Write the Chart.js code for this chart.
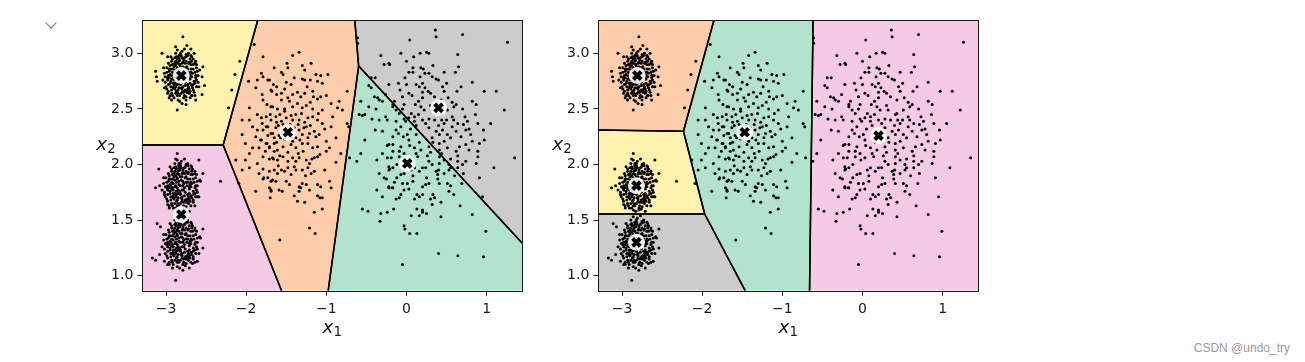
<!DOCTYPE html>
<html>
<head>
<meta charset="utf-8">
<script src="https://cdn.jsdelivr.net/npm/chart.js@4.4.0/dist/chart.umd.min.js"></script>
<style>
  html, body { margin: 0; padding: 0; background: #fff; }
  body { width: 1305px; height: 362px; position: relative; overflow: hidden; }
  canvas { position: absolute; top: 0; }
  #left { left: 0; }
  #right { left: 456px; }
  .chev { position: absolute; left: 47px; top: 19px; width: 7px; height: 7px;
          border-right: 1.3px solid #777; border-bottom: 1.3px solid #777; transform: rotate(45deg); }
  .mark { position: absolute; right: 15px; top: 341px; font: 12px "Liberation Sans", Arial, sans-serif; color: #9a9a9a; }
</style>
</head>
<body>
<div class="chev"></div>
<canvas id="left" width="560" height="362"></canvas>
<canvas id="right" width="560" height="362"></canvas>
<div class="mark">CSDN @undo_try</div>
<script>
// the five blobs (same points in both panels)
const blobTop = [
  [-2.79,3.15],[-2.74,3.07],[-2.88,3.06],[-2.69,3.04],[-2.65,3.00],[-3.05,3.00],[-2.98,2.97],[-3.13,2.84],[-3.11,2.75],[-3.12,2.79],
  [-2.54,2.88],[-2.55,2.79],[-2.52,2.71],[-3.02,2.69],[-2.98,2.64],[-2.93,2.58],[-2.68,2.62],[-2.63,2.58],[-2.75,2.54],[-2.80,2.55],
  [-2.86,2.49],[-2.55,2.63],
  [-2.93,2.80],[-2.91,2.86],[-2.89,2.91],[-2.84,2.93],[-2.78,2.94],[-2.72,2.91],[-2.69,2.86],[-2.68,2.79],[-2.70,2.73],[-2.73,2.68],
  [-2.79,2.66],[-2.85,2.67],[-2.90,2.71],[-2.94,2.75],[-2.96,2.84],[-2.95,2.89],[-2.92,2.95],[-2.87,2.97],[-2.81,2.98],[-2.75,2.97],
  [-2.70,2.95],[-2.66,2.90],[-2.64,2.83],[-2.65,2.75],[-2.67,2.69],[-2.71,2.64],[-2.77,2.62],[-2.83,2.62],[-2.88,2.64],[-2.93,2.67],
  [-2.97,2.72],[-2.98,2.78],[-2.90,2.76],[-2.72,2.83],[-2.74,2.88],[-2.88,2.85],[-2.86,2.72],[-2.76,2.71],[-2.92,2.83],[-2.70,2.77],
  [-2.83,2.90],[-2.79,2.70],[-2.99,2.87],[-2.62,2.87],[-2.63,2.78],[-3.00,2.70],[-2.95,2.62],[-2.85,2.58],[-2.75,2.58],[-2.68,2.62],
  [-2.62,2.70],[-2.66,2.95],[-2.72,3.00],[-2.80,3.02],[-2.88,3.00],[-2.94,2.97],[-3.02,2.82],[-3.04,2.76],[-2.60,2.80],[-2.86,2.95],
  [-2.76,2.91],[-2.97,2.66],[-2.81,2.64],[-2.65,2.65],[-2.91,2.78],[-2.89,2.68],[-2.84,2.69],[-2.74,2.65],[-2.68,2.71],[-2.67,2.82],
  [-2.71,2.92],[-2.80,2.96],[-2.88,2.93],[-2.94,2.86],[-2.97,2.80],[-2.78,2.60],[-2.70,2.60],[-2.90,2.60],[-3.01,2.74],[-2.63,2.93],
  [-2.60,2.74],
  [-2.87,2.80],[-2.86,2.87],[-2.82,2.88],[-2.76,2.87],[-2.74,2.80],[-2.76,2.74],[-2.82,2.72],[-2.87,2.75],[-2.92,2.90],[-2.84,2.96],
  [-2.77,2.96],[-2.69,2.90],[-2.66,2.86],[-2.66,2.72],[-2.71,2.68],[-2.80,2.68],[-2.88,2.70],[-2.95,2.73],[-2.96,2.78],[-2.99,2.83],
  [-2.93,2.93],[-2.82,3.00],[-2.73,2.98],[-2.64,2.91],[-2.61,2.84],[-2.62,2.76],[-2.66,2.67],[-2.75,2.61],[-2.86,2.62],[-2.93,2.64],
  [-2.99,2.68],[-3.01,2.79],[-2.91,2.73],[-2.85,2.64],[-2.72,2.70],[-2.70,2.81],[-2.79,2.92],[-2.90,2.88],[-2.97,2.91],[-2.69,2.98],
  [-2.58,2.85],[-2.59,2.70],[-2.83,2.57],[-2.96,2.60],[-3.03,2.87],[-2.77,3.04],[-2.86,3.03],[-2.64,2.62],[-2.94,2.70],[-2.68,2.93],
  [-2.73,2.66],[-2.89,2.96],[-2.98,2.76],[-2.63,2.80],[-2.78,2.65],[-2.84,2.98],
  [-2.81,2.80],[-2.85,2.78],[-2.77,2.82],[-2.83,2.84],[-2.79,2.76],[-2.76,2.78],[-2.86,2.83],[-2.80,2.85],[-2.82,2.75],[-2.78,2.84],
  [-2.84,2.76],[-2.88,2.79],[-2.74,2.83],[-2.81,2.73],[-2.79,2.88],[-2.85,2.86],[-2.77,2.76],[-2.83,2.81],[-2.78,2.80],[-2.84,2.73],
  [-2.90,2.82],[-2.88,2.89],[-2.80,2.91],[-2.73,2.86],[-2.71,2.79],[-2.73,2.72],[-2.81,2.69],[-2.89,2.73],[-2.95,2.81],[-2.93,2.77],
  [-2.69,2.83],[-2.75,2.93],[-2.86,2.91],[-2.91,2.69],[-2.70,2.66],[-2.64,2.73],[-2.62,2.90],[-2.76,2.67],[-2.87,2.66],[-2.96,2.86],
  [-2.92,2.62],[-2.68,2.97],[-2.83,2.94],[-2.75,2.99]
];
const blobMid = [
  [-2.88,2.05],[-2.84,2.01],[-2.90,1.97],[-2.59,2.04],[-3.09,1.96],[-3.13,1.79],[-3.08,1.81],[-2.54,1.92],[-2.57,1.85],[-2.61,1.71],
  [-3.02,1.73],[-2.98,1.64],[-2.88,1.61],[-2.79,1.59],[-2.86,2.10],
  [-2.94,1.81],[-2.92,1.87],[-2.90,1.92],[-2.85,1.94],[-2.79,1.95],[-2.73,1.92],[-2.70,1.87],[-2.69,1.80],[-2.71,1.74],[-2.74,1.69],
  [-2.80,1.67],[-2.86,1.68],[-2.91,1.72],[-2.95,1.76],[-2.97,1.85],[-2.96,1.90],[-2.93,1.96],[-2.88,1.98],[-2.82,1.99],[-2.76,1.98],
  [-2.71,1.96],[-2.67,1.91],[-2.65,1.84],[-2.66,1.76],[-2.68,1.70],[-2.72,1.65],[-2.78,1.63],[-2.84,1.63],[-2.89,1.65],[-2.94,1.68],
  [-2.98,1.73],[-2.99,1.79],[-2.91,1.77],[-2.73,1.84],[-2.75,1.89],[-2.89,1.86],[-2.87,1.73],[-2.77,1.72],[-2.93,1.84],[-2.71,1.78],
  [-2.84,1.91],[-2.80,1.71],[-3.00,1.88],[-2.63,1.88],[-2.64,1.79],[-3.01,1.71],[-2.96,1.63],[-2.86,1.59],[-2.76,1.60],[-2.69,1.63],
  [-2.63,1.71],[-2.67,1.96],[-2.73,2.01],[-2.81,2.03],[-2.89,2.01],[-2.95,1.98],[-3.03,1.83],[-3.05,1.77],[-2.61,1.81],[-2.87,1.96],
  [-2.77,1.92],[-2.98,1.67],[-2.82,1.65],[-2.66,1.66],[-2.92,1.79],[-2.90,1.69],[-2.85,1.70],[-2.75,1.66],[-2.69,1.72],[-2.68,1.83],
  [-2.72,1.93],[-2.81,1.97],[-2.89,1.94],[-2.95,1.87],[-2.98,1.81],[-2.79,1.61],[-2.71,1.58],[-2.91,1.61],[-3.02,1.75],[-2.64,1.94],
  [-2.61,1.75],
  [-2.88,1.81],[-2.86,1.88],[-2.82,1.89],[-2.76,1.88],[-2.74,1.81],[-2.76,1.75],[-2.82,1.73],[-2.87,1.76],[-2.92,1.91],[-2.84,1.97],
  [-2.77,1.97],[-2.69,1.91],[-2.66,1.87],[-2.66,1.73],[-2.71,1.69],[-2.80,1.69],[-2.88,1.71],[-2.95,1.74],[-2.96,1.79],[-2.99,1.84],
  [-2.93,1.94],[-2.82,2.01],[-2.73,1.99],[-2.64,1.92],[-2.61,1.85],[-2.62,1.77],[-2.66,1.68],[-2.75,1.62],[-2.86,1.63],[-2.93,1.65],
  [-2.99,1.69],[-3.01,1.80],[-2.91,1.74],[-2.85,1.65],[-2.72,1.71],[-2.70,1.82],[-2.79,1.93],[-2.90,1.89],[-2.97,1.92],[-2.69,1.99],
  [-2.58,1.86],[-2.59,1.71],[-2.83,1.58],[-2.96,1.61],[-3.03,1.88],[-2.77,2.05],[-2.86,2.04],[-2.64,1.63],[-2.94,1.71],[-2.68,1.94],
  [-2.73,1.67],[-2.89,1.97],[-2.98,1.77],[-2.63,1.81],[-2.78,1.66],[-2.84,1.99],
  [-2.82,1.81],[-2.86,1.79],[-2.78,1.83],[-2.84,1.85],[-2.80,1.77],[-2.77,1.79],[-2.87,1.84],[-2.81,1.86],[-2.83,1.76],[-2.79,1.85],
  [-2.85,1.77],[-2.89,1.80],[-2.75,1.84],[-2.82,1.74],[-2.80,1.89],[-2.86,1.87],[-2.78,1.77],[-2.84,1.82],[-2.79,1.81],[-2.85,1.74],
  [-2.91,1.83],[-2.88,1.90],[-2.80,1.92],[-2.73,1.87],[-2.71,1.80],[-2.73,1.73],[-2.81,1.70],[-2.89,1.74],[-2.95,1.82],[-2.93,1.78],
  [-2.69,1.84],[-2.75,1.94],[-2.86,1.92],[-2.91,1.70],[-2.70,1.67],[-2.64,1.74],[-2.62,1.91],[-2.76,1.68],[-2.87,1.67],[-2.96,1.87],
  [-2.92,1.63],[-2.68,1.98],[-2.83,1.95],[-2.75,2.00]
];
const blobLow = [
  [-3.11,1.47],[-3.07,1.44],[-3.17,1.16],[-3.13,1.14],[-3.08,1.19],[-2.54,1.25],[-2.57,1.34],[-2.54,1.42],[-2.88,0.96],[-2.79,1.05],
  [-2.92,1.07],[-2.61,1.13],[-2.67,1.11],[-3.02,1.13],[-2.98,1.10],
  [-2.94,1.30],[-2.92,1.36],[-2.90,1.41],[-2.85,1.43],[-2.79,1.44],[-2.73,1.41],[-2.70,1.36],[-2.69,1.29],[-2.71,1.23],[-2.74,1.18],
  [-2.80,1.16],[-2.86,1.17],[-2.91,1.21],[-2.95,1.25],[-2.97,1.34],[-2.96,1.39],[-2.93,1.45],[-2.88,1.47],[-2.82,1.48],[-2.76,1.47],
  [-2.71,1.45],[-2.67,1.40],[-2.65,1.33],[-2.66,1.25],[-2.68,1.19],[-2.72,1.14],[-2.78,1.12],[-2.84,1.12],[-2.89,1.14],[-2.94,1.17],
  [-2.98,1.22],[-2.99,1.28],[-2.91,1.26],[-2.73,1.33],[-2.75,1.38],[-2.89,1.35],[-2.87,1.22],[-2.77,1.21],[-2.93,1.33],[-2.71,1.27],
  [-2.84,1.40],[-2.80,1.20],[-3.00,1.37],[-2.63,1.37],[-2.64,1.28],[-3.01,1.20],[-2.96,1.12],[-2.86,1.08],[-2.76,1.09],[-2.69,1.12],
  [-2.63,1.20],[-2.67,1.45],[-2.73,1.50],[-2.81,1.52],[-2.89,1.50],[-2.95,1.47],[-3.03,1.32],[-3.05,1.26],[-2.61,1.30],[-2.87,1.45],
  [-2.77,1.41],[-2.98,1.16],[-2.82,1.14],[-2.66,1.15],[-2.92,1.28],[-2.90,1.18],[-2.85,1.19],[-2.75,1.15],[-2.69,1.21],[-2.68,1.32],
  [-2.72,1.42],[-2.81,1.46],[-2.89,1.43],[-2.95,1.36],[-2.98,1.30],[-2.79,1.10],[-2.71,1.07],[-2.91,1.10],[-3.02,1.24],[-2.64,1.43],
  [-2.61,1.24],
  [-2.88,1.30],[-2.86,1.37],[-2.82,1.38],[-2.76,1.37],[-2.74,1.30],[-2.76,1.24],[-2.82,1.22],[-2.87,1.25],[-2.92,1.40],[-2.84,1.46],
  [-2.77,1.46],[-2.69,1.40],[-2.66,1.36],[-2.66,1.22],[-2.71,1.18],[-2.80,1.18],[-2.88,1.20],[-2.95,1.23],[-2.96,1.28],[-2.99,1.33],
  [-2.93,1.43],[-2.82,1.50],[-2.73,1.48],[-2.64,1.41],[-2.61,1.34],[-2.62,1.26],[-2.66,1.17],[-2.75,1.11],[-2.86,1.12],[-2.93,1.14],
  [-2.99,1.18],[-3.01,1.29],[-2.91,1.23],[-2.85,1.14],[-2.72,1.20],[-2.70,1.31],[-2.79,1.42],[-2.90,1.38],[-2.97,1.41],[-2.69,1.48],
  [-2.58,1.35],[-2.59,1.20],[-2.83,1.07],[-2.96,1.10],[-3.03,1.37],[-2.77,1.54],[-2.86,1.53],[-2.64,1.12],[-2.94,1.20],[-2.68,1.43],
  [-2.73,1.16],[-2.89,1.46],[-2.98,1.26],[-2.63,1.30],[-2.78,1.15],[-2.84,1.48],
  [-2.82,1.30],[-2.86,1.28],[-2.78,1.32],[-2.84,1.34],[-2.80,1.26],[-2.77,1.28],[-2.87,1.33],[-2.81,1.35],[-2.83,1.25],[-2.79,1.34],
  [-2.85,1.26],[-2.89,1.29],[-2.75,1.33],[-2.82,1.23],[-2.80,1.38],[-2.86,1.36],[-2.78,1.26],[-2.84,1.31],[-2.79,1.30],[-2.85,1.23],
  [-2.91,1.32],[-2.88,1.39],[-2.80,1.41],[-2.73,1.36],[-2.71,1.29],[-2.73,1.22],[-2.81,1.19],[-2.89,1.23],[-2.95,1.31],[-2.93,1.27],
  [-2.69,1.33],[-2.75,1.43],[-2.86,1.41],[-2.91,1.19],[-2.70,1.16],[-2.64,1.23],[-2.62,1.40],[-2.76,1.17],[-2.87,1.16],[-2.96,1.36],
  [-2.92,1.12],[-2.68,1.47],[-2.83,1.44],[-2.75,1.49]
];
const blobWest = [
  [-1.79,2.97],[-1.42,2.98],[-1.34,3.01],[-1.49,2.91],[-1.19,2.91],[-1.65,2.87],[-1.56,2.83],[-1.54,2.81],[-1.48,2.87],[-1.30,2.89],
  [-1.27,2.85],[-1.79,2.79],[-1.73,2.76],[-1.66,2.72],[-1.50,2.74],[-1.44,2.72],[-1.52,2.68],[-1.30,2.77],[-1.27,2.76],[-1.20,2.76],
  [-1.13,2.81],[-1.07,2.80],[-0.98,2.81],[-1.11,2.75],[-1.05,2.73],[-1.68,2.66],[-1.62,2.63],[-1.56,2.64],[-1.42,2.63],[-1.36,2.65],
  [-1.32,2.61],[-1.27,2.64],[-1.17,2.66],[-1.16,2.61],[-1.11,2.59],[-1.07,2.61],[-1.00,2.62],[-0.74,2.66],[-1.79,2.58],[-1.74,2.54],
  [-1.67,2.52],[-1.61,2.50],[-1.56,2.58],[-1.46,2.57],[-1.42,2.52],[-1.30,2.51],[-1.25,2.53],[-1.17,2.50],[-1.05,2.49],[-0.94,2.55],
  [-0.86,2.51],[-0.84,2.57],[-0.80,2.49],[-1.81,2.42],[-1.75,2.43],[-1.69,2.40],[-1.63,2.43],[-1.56,2.39],[-1.50,2.42],[-1.42,2.40],
  [-1.34,2.40],[-1.23,2.42],[-1.17,2.43],[-1.11,2.40],[-1.05,2.37],[-0.94,2.34],[-0.74,2.37],[-0.72,2.34],[-1.79,2.31],[-1.73,2.34],
  [-1.67,2.28],[-1.63,2.33],[-1.59,2.26],[-1.34,2.31],[-1.30,2.27],[-1.25,2.34],[-1.21,2.28],[-1.15,2.30],[-1.13,2.25],[-1.09,2.27],
  [-0.88,2.24],[-1.81,2.22],[-1.75,2.19],[-1.71,2.15],[-1.65,2.19],[-1.61,2.13],[-1.54,2.16],[-1.44,2.18],[-1.38,2.15],[-1.30,2.19],
  [-1.23,2.19],[-1.17,2.15],[-1.11,2.16],[-1.00,2.12],[-0.96,2.15],[-0.82,2.10],[-1.55,2.30],[-1.40,2.33],[-1.38,2.24],[-1.52,2.23],
  [-1.60,2.35],[-1.35,2.36],[-1.45,2.36],[-1.57,2.24],[-1.42,2.21],[-1.28,2.33],
  [-1.79,2.07],[-1.71,2.05],[-1.67,2.06],[-1.61,2.04],[-1.54,2.07],[-1.48,2.03],[-1.42,2.06],[-1.38,2.03],[-1.34,2.06],[-1.25,2.04],
  [-1.21,2.01],[-1.15,2.06],[-1.11,2.07],[-0.71,2.06],[-1.79,1.96],[-1.71,1.94],[-1.65,1.95],[-1.61,1.92],[-1.56,1.95],[-1.52,1.94],
  [-1.48,1.97],[-1.40,1.98],[-1.38,1.95],[-1.30,1.95],[-1.23,1.97],[-1.19,1.92],[-1.15,1.94],[-1.79,1.87],[-1.73,1.88],[-1.67,1.86],
  [-1.63,1.85],[-1.50,1.85],[-1.46,1.82],[-1.34,1.80],[-1.30,1.83],[-1.25,1.82],[-1.21,1.77],[-1.11,1.82],[-1.07,1.80],[-0.96,1.85],
  [-0.94,1.79],[-1.71,1.79],[-1.69,1.76],[-1.59,1.77],[-1.55,1.76],[-1.34,1.76],[-1.32,1.79],[-1.11,1.72],[-1.08,1.70],[-1.05,1.70],
  [-1.36,1.67],[-1.27,1.66],[-1.05,1.60],[-1.15,1.57],[-1.21,1.43],[-1.14,1.38],[-1.58,1.32],
  [-2.08,2.93],[-2.14,2.81],[-2.18,2.67],[-2.22,2.51],[-1.90,3.08],[-1.81,2.82],[-1.97,2.75],[-1.86,2.76],[-1.71,2.76],[-1.69,2.67],
  [-1.88,2.69],[-1.80,2.63],[-1.69,2.52],[-1.96,2.51],[-2.05,2.40],[-1.96,2.40],[-1.92,2.34],[-1.86,2.31],[-1.80,2.37],[-1.75,2.34],
  [-1.69,2.28],[-1.88,2.25],[-1.82,2.22],[-1.74,2.19],[-1.65,2.24],[-2.05,2.27],[-2.01,2.19],[-1.92,2.15],[-1.84,2.15],[-1.71,2.16],
  [-1.65,2.12],[-1.96,2.10],[-2.13,2.04],[-2.01,2.04],[-1.96,1.97],[-1.86,2.01],[-2.05,1.95],[-1.84,1.92],[-1.78,1.88],[-1.69,1.85],
  [-2.09,1.83],[-1.88,1.76],[-1.69,1.77],[-1.70,1.70],[-2.32,1.85],
  [-1.62,2.38],[-1.58,2.45],[-1.52,2.48],[-1.38,2.45],[-1.31,2.46],[-1.27,2.38],[-1.20,2.35],[-1.23,2.24],[-1.29,2.12],[-1.35,2.10],
  [-1.48,2.11],[-1.58,2.08],[-1.66,2.05],[-1.73,2.26],[-1.70,2.45],[-1.48,2.60],[-1.36,2.55],[-1.20,2.56],[-1.10,2.46],[-1.02,2.32],
  [-1.00,2.21],[-1.08,2.09],[-1.26,1.90],[-1.44,1.91],[-1.60,1.99],[-1.76,2.12],[-1.86,2.45],[-1.62,2.70],[-1.40,2.78],[-1.24,2.70],
  [-0.92,2.43],[-0.88,2.02],[-1.02,1.95],[-1.40,1.72],[-1.52,2.50],[-1.44,2.44],[-1.33,2.22],[-1.62,2.20],[-1.54,2.36],[-1.18,2.05]
];
const blobEast = [
  [0.36,3.21],[0.37,3.15],[0.70,3.17],[0.04,3.12],[1.26,3.10],[-0.07,3.00],[0.25,3.01],[0.28,3.00],[0.17,3.00],[0.09,2.97],
  [0.00,2.93],[0.64,2.99],[0.65,2.88],[-0.21,2.90],[0.33,2.89],[0.18,2.87],[0.21,2.86],[0.23,2.82],[0.28,2.82],[0.08,2.87],
  [0.03,2.83],[0.08,2.83],[0.47,2.83],[0.61,2.83],[0.32,2.79],[0.37,2.77],[0.40,2.76],[0.50,2.73],[0.82,2.74],[0.17,2.79],
  [0.20,2.73],[-0.02,2.78],[-0.10,2.73],[0.00,2.72],[0.12,2.72],[0.16,2.70],[0.23,2.69],[0.45,2.70],[0.47,2.66],[0.68,2.70],
  [0.63,2.66],[0.97,2.66],[1.12,2.66],[-0.08,2.67],[0.03,2.64],[0.07,2.62],[0.27,2.66],[0.30,2.64],[0.35,2.61],[0.20,2.60],
  [0.15,2.57],[-0.05,2.61],[-0.15,2.57],[-0.17,2.52],[-0.13,2.49],[-0.03,2.54],[0.82,2.57],[0.87,2.54],[0.43,2.58],[0.57,2.56],
  [0.62,2.54],[0.59,2.52],[0.11,2.54],[0.18,2.52],[0.22,2.49],[0.32,2.49],[0.43,2.46],[0.51,2.49],[1.22,2.49],[-0.09,2.46],
  [-0.03,2.41],[0.03,2.42],[-0.13,2.39],[-0.01,2.39],[0.10,2.43],[0.10,2.39],[0.20,2.40],[0.24,2.37],[0.28,2.41],[0.41,2.45],
  [0.44,2.40],[0.47,2.37],[0.40,2.35],[0.57,2.43],[0.59,2.40],[0.64,2.37],[0.57,2.34],[0.73,2.43],[0.76,2.39],[0.71,2.36],
  [0.78,2.32],[0.74,2.31],[0.86,2.45],[0.89,2.37],[0.96,2.31],[1.05,2.37],[-0.13,2.31],[-0.07,2.34],[-0.17,2.25],[-0.04,2.25],
  [0.01,2.27],[0.03,2.22],[0.12,2.27],[0.37,2.30],[0.41,2.27],[0.45,2.31],[0.51,2.27],[0.55,2.24],[0.32,2.24],[0.41,2.19],
  [0.47,2.21],[0.68,2.25],[0.80,2.27],[0.82,2.21],[0.91,2.19],[0.97,2.22],[-0.17,2.18],[-0.07,2.16],[-0.09,2.12],[-0.03,2.10],
  [0.10,2.15],[0.18,2.13],[0.28,2.16],[0.30,2.11],[0.41,2.13],[0.51,2.15],[0.62,2.12],[0.66,2.16],[0.78,2.13],[0.89,2.12],
  [1.35,2.06],[1.09,1.97],[0.91,1.88],[0.95,1.71],[0.67,1.63],[0.82,1.55],[0.99,1.40],[0.40,1.20],[0.64,1.18],[0.96,1.17],
  [-0.05,1.10],[0.04,1.38],[0.13,1.38],[-0.03,1.45],[-0.02,1.42],[0.43,1.53],[0.06,1.54],[0.16,1.54],[0.25,1.56],[-0.16,1.60],
  [0.13,1.60],[0.20,1.59],[0.20,1.57],[0.43,1.66],[0.30,1.69],[0.32,1.64],[-0.13,1.69],[-0.09,1.70],[-0.07,1.73],[0.53,1.76],
  [0.59,1.73],[0.10,1.69],[0.13,1.73],[0.16,1.71],[0.20,1.73],[-0.03,1.77],[0.03,1.78],[-0.17,1.79],[-0.22,1.80],[0.33,1.73],
  [0.35,1.70],[0.20,1.80],[0.24,1.82],[0.28,1.83],[-0.15,1.84],[-0.05,1.83],[0.01,1.83],[0.08,1.85],[0.39,1.87],[0.41,1.83],
  [0.51,1.83],[0.55,1.81],[0.69,1.83],[0.71,1.92],[0.37,1.94],[0.39,1.91],[0.47,1.92],[0.53,1.95],[0.55,1.97],[-0.07,1.91],
  [-0.03,1.92],[0.06,1.95],[0.10,1.97],[0.16,1.94],[0.20,1.97],[0.24,1.97],[0.28,2.03],[0.32,2.00],[0.41,2.01],[0.47,2.04],
  [0.53,2.00],[0.64,2.03],[0.64,1.97],[0.74,2.03],[0.87,2.01],[0.89,2.07],[-0.19,2.06],[-0.09,2.07],[0.03,2.06],[0.14,2.07],
  [-0.22,1.95],[-0.17,1.97],[0.41,2.07],[0.64,2.08],
  [-0.61,3.14],[-0.61,3.09],[-0.32,2.98],[-0.28,2.90],[-0.22,2.91],[-0.44,2.78],[-0.39,2.78],[-0.47,2.71],[-0.44,2.69],[-0.22,2.72],
  [-0.40,2.61],[-0.36,2.60],[-0.34,2.58],[-0.30,2.57],[-0.26,2.63],[-0.17,2.54],[-0.57,2.57],[-0.47,2.52],[-0.38,2.50],[-0.59,2.45],
  [-0.55,2.44],[-0.52,2.45],[-0.43,2.41],[-0.34,2.40],[-0.26,2.43],[-0.24,2.40],[-0.39,2.31],[-0.30,2.30],[-0.52,2.22],[-0.24,2.17],
  [-0.22,2.18],[-0.57,2.10],[-0.30,2.10],[-0.17,2.12],[-0.62,2.03],[-0.37,2.04],[-0.24,2.06],[-0.34,1.92],[-0.28,1.88],[-0.25,1.87],
  [-0.22,1.98],[-0.21,1.96],[-0.22,1.79],[-0.18,1.79],[-0.37,1.77],[-0.30,1.71],[-0.55,1.60],[-0.48,1.58],[-0.32,1.56],[-0.24,1.57],
  [-0.33,1.49],
  [0.05,2.32],[0.12,2.35],[0.28,2.33],[0.33,2.20],[0.26,2.08],[0.12,2.10],[0.04,2.17],[-0.10,2.28],[0.15,2.45],[0.30,2.53],
  [0.50,2.40],[0.55,2.05],[0.40,1.95],[0.08,1.90],[-0.12,2.00],[-0.05,2.50],[0.20,2.65],[0.52,2.60],[0.70,2.50],[0.74,2.18],
  [0.60,1.90],[0.25,1.88],[-0.12,1.88],[0.35,2.40],[0.06,2.46],[0.62,2.30],[0.16,2.20],[0.44,2.10],[0.70,2.00],[-0.02,2.04]
];

// centroids of the two k-means runs and the colour of their cells
const centroidsLeft = [[-2.81, 2.80], [-1.48, 2.29], [0.40, 2.51], [0.01, 2.01], [-2.81, 1.55]];
const coloursLeft = ['#fff2ae', '#fdcdac', '#cccccc', '#b3e2cd', '#f4cae4'];
const centroidsRight = [[-2.81, 2.80], [-1.47, 2.29], [0.20, 2.26], [-2.82, 1.81], [-2.82, 1.30]];
const coloursRight = ['#fdcdac', '#b3e2cd', '#f4cae4', '#fff2ae', '#cccccc'];

const xTicks = [-3, -2, -1, 0, 1];
const yTicks = [1.0, 1.5, 2.0, 2.5, 3.0];
const xRange = [-3.296, 1.445];
const yRange = [0.865, 3.30];

const allPoints = [...blobTop, ...blobMid, ...blobLow, ...blobWest, ...blobEast];

// keep the part of poly where a*x + b*y <= c
function clipHalf(poly, a, b, c) {
  const out = [];
  for (let i = 0; i < poly.length; i++) {
    const p = poly[i], q = poly[(i + 1) % poly.length];
    const fp = a * p[0] + b * p[1] - c;
    const fq = a * q[0] + b * q[1] - c;
    if (fp <= 0) out.push(p);
    if ((fp < 0 && fq > 0) || (fp > 0 && fq < 0)) {
      const t = fp / (fp - fq);
      out.push([p[0] + t * (q[0] - p[0]), p[1] + t * (q[1] - p[1])]);
    }
  }
  return out;
}

// region of the axes closest to centroid i
function cellOf(i, cents) {
  let poly = [[xRange[0], yRange[0]], [xRange[1], yRange[0]], [xRange[1], yRange[1]], [xRange[0], yRange[1]]];
  const [xi, yi] = cents[i];
  cents.forEach(([xj, yj], j) => {
    if (j === i) return;
    poly = clipHalf(poly, 2 * (xj - xi), 2 * (yj - yi), xj * xj + yj * yj - xi * xi - yi * yi);
  });
  return poly;
}

function onFrame(p, q) {
  const eps = 1e-6;
  for (const k of [0, 1]) {
    const r = k ? yRange : xRange;
    for (const v of r) {
      if (Math.abs(p[k] - v) < eps && Math.abs(q[k] - v) < eps) return true;
    }
  }
  return false;
}

function regionsPlugin(cents, colours) {
  return {
    id: 'regions',
    beforeDatasetsDraw(chart) {
      const { ctx, chartArea: a, scales: { x, y } } = chart;
      const cells = cents.map((c, i) => cellOf(i, cents));
      const px = p => [x.getPixelForValue(p[0]), y.getPixelForValue(p[1])];
      ctx.save();
      ctx.beginPath();
      ctx.rect(a.left, a.top, a.right - a.left, a.bottom - a.top);
      ctx.clip();
      cells.forEach((poly, i) => {
        ctx.beginPath();
        poly.forEach((p, k) => {
          const [X, Y] = px(p);
          if (k) ctx.lineTo(X, Y); else ctx.moveTo(X, Y);
        });
        ctx.closePath();
        ctx.fillStyle = colours[i];
        ctx.fill();
      });
      ctx.strokeStyle = '#000';
      ctx.lineWidth = 1.5;
      cells.forEach(poly => {
        poly.forEach((p, k) => {
          const q = poly[(k + 1) % poly.length];
          if (onFrame(p, q)) return;
          const [X1, Y1] = px(p), [X2, Y2] = px(q);
          ctx.beginPath();
          ctx.moveTo(X1, Y1);
          ctx.lineTo(X2, Y2);
          ctx.stroke();
        });
      });
      ctx.restore();
    }
  };
}

// frame + x1 / x2 labels
const decorPlugin = {
  id: 'decor',
  afterDatasetsDraw(chart) {
    const { ctx, chartArea: a } = chart;
    ctx.save();
    ctx.strokeStyle = '#1a1a1a';
    ctx.lineWidth = 1;
    ctx.strokeRect(Math.round(a.left) + 0.5, Math.round(a.top) + 0.5,
                   Math.round(a.right) - Math.round(a.left), Math.round(a.bottom) - Math.round(a.top));
    ctx.restore();
  },
  afterDraw(chart) {
    const { ctx, chartArea: a } = chart;
    const mathLabel = (sub, left, base, centred) => {
      ctx.font = 'italic 18.5px "DejaVu Sans"';
      const wx = ctx.measureText('x').width;
      ctx.font = '13.5px "DejaVu Sans"';
      const ws = ctx.measureText(sub).width;
      const x0 = centred ? left - (wx + ws) / 2 : left;
      ctx.fillStyle = '#1a1a1a';
      ctx.textBaseline = 'alphabetic';
      ctx.textAlign = 'left';
      ctx.font = 'italic 18.5px "DejaVu Sans"';
      ctx.fillText('x', x0, base);
      ctx.font = '13.5px "DejaVu Sans"';
      ctx.fillText(sub, x0 + wx, base + 2.5);
    };
    ctx.save();
    mathLabel('1', (a.left + a.right) / 2, 333, true);
    mathLabel('2', a.left - 46, 150, false);
    ctx.restore();
  }
};

function axis(ticksArr, range, fmt, fit, pad) {
  return {
    type: 'linear',
    min: range[0],
    max: range[1],
    afterBuildTicks: s => { s.ticks = ticksArr.map(v => ({ value: v })); },
    afterFit: fit,
    border: { display: false },
    grid: { drawOnChartArea: false, drawTicks: true, tickLength: 5, tickWidth: 1, tickColor: '#1a1a1a' },
    ticks: {
      padding: pad, color: '#1a1a1a', autoSkip: false, maxRotation: 0,
      font: { family: '"DejaVu Sans"', size: 14 },
      callback: fmt
    }
  };
}

function makePanel(id, cents, colours) {
  const pts = allPoints.map(([x, y]) => ({ x, y }));
  const cpts = cents.map(([x, y]) => ({ x, y }));
  return new Chart(document.getElementById(id), {
    type: 'scatter',
    data: {
      datasets: [
        { data: cpts, pointStyle: 'crossRot', pointRadius: 5.5, borderWidth: 4, borderColor: '#000',
          backgroundColor: '#000', order: 1 },
        { data: cpts, pointStyle: 'circle', pointRadius: 8.5, borderWidth: 0,
          backgroundColor: 'rgba(255,255,255,0.9)', order: 2 },
        { data: pts, pointRadius: 1.5, borderWidth: 0, backgroundColor: '#000', order: 3 }
      ]
    },
    options: {
      responsive: false,
      devicePixelRatio: 1,
      animation: false,
      events: [],
      layout: { padding: { left: 0, right: 37.7, top: 20, bottom: 0 } },
      plugins: { legend: { display: false }, tooltip: { enabled: false } },
      scales: {
        x: axis(xTicks, xRange, v => (v < 0 ? '\u2212' + Math.abs(v) : String(v)), s => { s.height = 71.3; }, 5),
        y: axis(yTicks, yRange, v => Number(v).toFixed(1), s => { s.width = 142.3; }, 4)
      }
    },
    plugins: [regionsPlugin(cents, colours), decorPlugin]
  });
}

makePanel('left', centroidsLeft, coloursLeft);
makePanel('right', centroidsRight, coloursRight);
</script>
</body>
</html>
